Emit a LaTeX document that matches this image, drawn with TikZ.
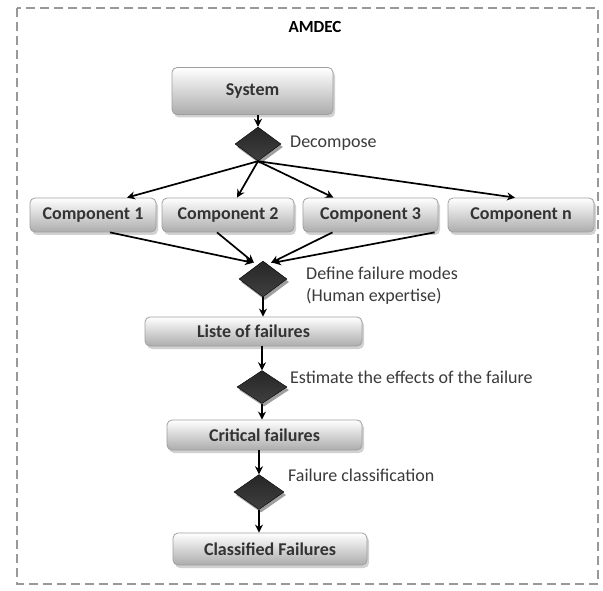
\documentclass[tikz,border=0pt]{standalone}
\usepackage{fontspec}
\setmainfont{Carlito}
\usetikzlibrary{shapes.geometric,shadows,arrows.meta,calc}
\definecolor{txt}{HTML}{333333}
\definecolor{lbl}{HTML}{3A3A3A}
\tikzset{
  box/.style={draw=gray!75, line width=0.8pt, rounded corners=5pt, top color=white, bottom color=gray!65,
    drop shadow={shadow xshift=2pt, shadow yshift=-3pt, fill=gray!60, opacity=0.6},
    font=\fontsize{18}{20}\selectfont\bfseries, text=txt, inner sep=0pt},
  dia/.style={diamond, draw=black, line width=0.4pt, inner sep=0pt, top color=black!85, middle color=black, bottom color=black!75,
    drop shadow={shadow xshift=2pt, shadow yshift=-3pt, fill=gray!75, opacity=1}},
  lab/.style={font=\fontsize{18}{22}\selectfont, text=lbl, anchor=west, inner sep=0pt, align=left},
  arr/.style={line width=1.7pt, -{Stealth[length=8pt,width=8pt]}}
}
\begin{document}
\begin{tikzpicture}[x=1pt,y=-1pt]
\useasboundingbox (0,0) rectangle (603,591);
\draw[gray!80, line width=1.1pt, dash pattern=on 9pt off 5pt] (17,8) rectangle (598,584);
\node[font=\fontsize{17}{19}\selectfont\bfseries, text=black] (title) at (315,27) {AMDEC};

\node[box, minimum width=161pt, minimum height=47pt] (sys) at (252.5,91) {System};
\node[dia, minimum width=46pt, minimum height=34pt] (d1) at (258,144) {};
\node[lab] (l1) at (290,143) {Decompose};

\node[box, minimum width=126pt, minimum height=34pt] (c1) at (93,215) {Component 1};
\node[box, minimum width=132pt, minimum height=34pt] (c2) at (228,215) {Component 2};
\node[box, minimum width=135pt, minimum height=34pt] (c3) at (370.5,215) {Component 3};
\node[box, minimum width=146pt, minimum height=34pt] (cn) at (521,215) {Component n};

\node[dia, minimum width=48pt, minimum height=36pt] (d2) at (263,279) {};
\node[lab] (l2) at (306,286) {Define failure modes\\(Human expertise)};

\node[box, minimum width=217pt, minimum height=29pt] (liste) at (253.5,331.5) {Liste of failures};
\node[dia, minimum width=50pt, minimum height=33pt] (d3) at (262,387) {};
\node[lab] (l3) at (290,377) {Estimate the effects of the failure};

\node[box, minimum width=195pt, minimum height=30pt] (crit) at (264.5,435) {Critical failures};
\node[dia, minimum width=50pt, minimum height=35pt] (d4) at (259,492) {};
\node[lab] (l4) at (288,475) {Failure classification};

\node[box, minimum width=194pt, minimum height=32pt] (cls) at (270,549) {Classified Failures};

\draw[arr] (d1.north |- sys.south) -- (d1.north);
\draw[arr] (d1.south) -- ($(c1.north)+(34,0)$);
\draw[arr] (d1.south) -- ($(c2.north)+(9,0)$);
\draw[arr] (d1.south) -- ($(c3.north)+(-37,0)$);
\draw[arr] (d1.south) -- ($(cn.north)+(-6,0)$);

\draw[arr] ($(c1.south)+(17,0)$) -- ($(d2.north)+(-10,2)$);
\draw[arr] ($(c2.south)+(-11,0)$) -- ($(d2.north)+(-9,2)$);
\draw[arr] ($(c3.south)+(-38,0)$) -- ($(d2.north)+(8,2)$);
\draw[arr] ($(cn.south west)+(-13,0)$) -- ($(d2.north)+(10,2)$);

\draw[arr] (d2.south) -- (d2.south |- liste.north);
\draw[arr] (d3.north |- liste.south) -- (d3.north);
\draw[arr] (d3.south) -- (d3.south |- crit.north);
\draw[arr] (d4.north |- crit.south) -- (d4.north);
\draw[arr] (d4.south) -- (d4.south |- cls.north);
\end{tikzpicture}
\end{document}
